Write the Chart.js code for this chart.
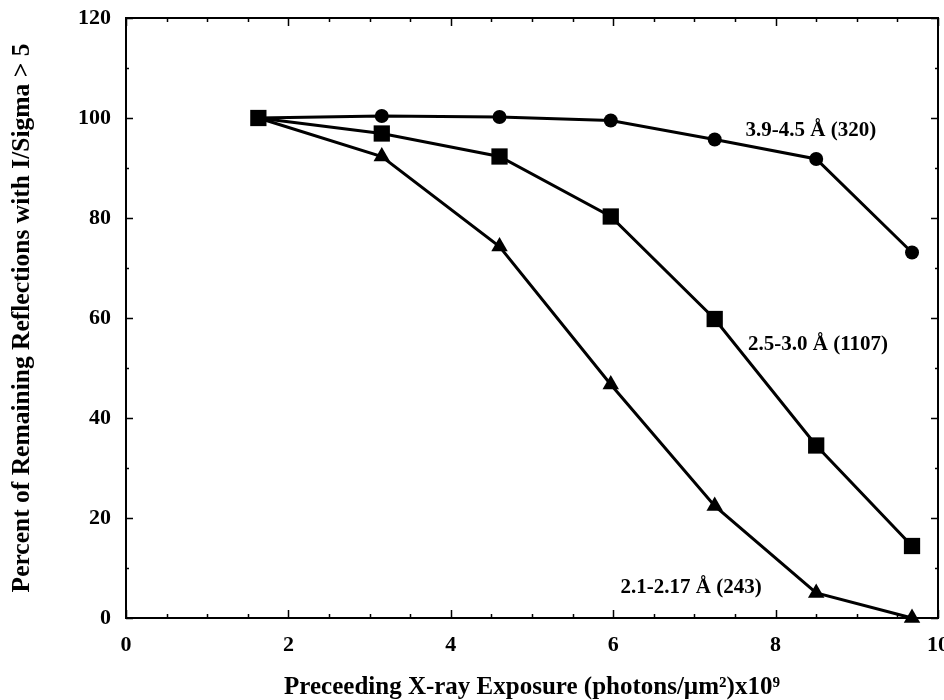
<!DOCTYPE html>
<html><head><meta charset="utf-8">
<script src="https://cdn.jsdelivr.net/npm/chart.js@4/dist/chart.umd.min.js"></script>
<style>html,body{margin:0;padding:0;background:#fff}#wrap{width:944px;height:700px;position:relative}</style>
</head><body><div id="wrap"><canvas id="c"></canvas></div>
<script>
// ---- data ----
const exposure = [1.63, 3.15, 4.6, 5.97, 7.25, 8.5, 9.68];
const lowRes  = [100, 100.4, 100.2, 99.5, 95.7, 91.8, 73.1];   // circles
const midRes  = [100, 96.9, 92.3, 80.3, 59.8, 34.5, 14.4];     // squares
const highRes = [100, 92.3, 74.3, 46.7, 22.4, 5.0, 0.0];       // triangles
const seriesLabels = ['3.9-4.5 Å (320)', '2.5-3.0 Å (1107)', '2.1-2.17 Å (243)'];
const xTicks = [0, 2, 4, 6, 8, 10];
const yTicks = [0, 20, 40, 60, 80, 100, 120];
const xTitle = 'Preceeding X-ray Exposure (photons/µm²)x10⁹';
const yTitle = 'Percent of Remaining Reflections with I/Sigma > 5';

const FONT = '"Liberation Serif", "Times New Roman", serif';
const toPts = (ys) => exposure.map((x, i) => ({x, y: ys[i]}));
const firstHidden = (r) => exposure.map((_, i) => i === 0 ? 0 : r);

const labelAnchors = [
  {x: 7.63, y: 97.4},
  {x: 7.66, y: 54.7},
  {x: 6.09, y: 6.0}
];

const noPad = (s) => {
  s.paddingLeft = 0; s.paddingRight = 0; s.paddingTop = 0; s.paddingBottom = 0;
};

const framePlugin = {
  id: 'frame',
  beforeDatasetsDraw(chart) {
    const {ctx, chartArea: a, scales: {x, y}} = chart;
    ctx.save();
    ctx.strokeStyle = '#000';
    ctx.lineWidth = 2;
    ctx.strokeRect(a.left, a.top, a.right - a.left, a.bottom - a.top);
    ctx.lineWidth = 1.5;
    ctx.beginPath();
    for (let v = 0; v <= 10.001; v += 0.5) {
      const px = Math.round(x.getPixelForValue(v)) + 0.5;
      const major = Math.abs(v / 2 - Math.round(v / 2)) < 1e-6;
      const len = major ? 8 : 4;
      ctx.moveTo(px, a.bottom); ctx.lineTo(px, a.bottom - len);
      ctx.moveTo(px, a.top); ctx.lineTo(px, a.top + len);
    }
    for (let v = 0; v <= 120.001; v += 10) {
      const py = Math.round(y.getPixelForValue(v)) + 0.5;
      const major = v % 20 === 0;
      const len = major ? 7 : 3;
      ctx.moveTo(a.left, py); ctx.lineTo(a.left + len, py);
      ctx.moveTo(a.right, py); ctx.lineTo(a.right - len, py);
    }
    ctx.stroke();
    ctx.restore();
  },
  afterDraw(chart) {
    const {ctx, scales: {x, y}} = chart;
    ctx.save();
    ctx.fillStyle = '#000';
    ctx.font = 'bold 21px ' + FONT;
    ctx.textBaseline = 'middle';
    ctx.textAlign = 'left';
    seriesLabels.forEach((t, i) => {
      ctx.fillText(t, x.getPixelForValue(labelAnchors[i].x), y.getPixelForValue(labelAnchors[i].y));
    });
    ctx.restore();
  }
};

const common = {
  showLine: true, borderColor: '#000', backgroundColor: '#000',
  borderWidth: 3, clip: false, pointBorderWidth: 0, pointHoverBorderWidth: 0
};

new Chart(document.getElementById('c'), {
  type: 'scatter',
  data: {
    datasets: [
      Object.assign({label: seriesLabels[2], data: toPts(highRes), pointStyle: 'triangle', pointRadius: firstHidden(9.5), pointHoverRadius: firstHidden(9.5)}, common),
      Object.assign({label: seriesLabels[0], data: toPts(lowRes), pointStyle: 'circle', pointRadius: firstHidden(7), pointHoverRadius: firstHidden(7)}, common),
      Object.assign({label: seriesLabels[1], data: toPts(midRes), pointStyle: 'rect', pointRadius: 11.5, pointHoverRadius: 11.5}, common)
    ]
  },
  options: {
    responsive: true, maintainAspectRatio: false, animation: false,
    devicePixelRatio: 1,
    layout: {autoPadding: false, padding: {left: 0, right: 6, top: 18, bottom: 0}},
    plugins: {legend: {display: false}, tooltip: {enabled: false}},
    scales: {
      x: {
        type: 'linear', min: 0, max: 10,
        afterBuildTicks: (s) => { s.ticks = xTicks.map(v => ({value: v})); },
        afterFit: (s) => { s.height = 82; noPad(s); },
        ticks: {color: '#000', font: {family: FONT, size: 22, weight: 'bold'}, padding: 14, maxRotation: 0, autoSkip: false},
        grid: {display: false, drawTicks: false},
        border: {display: false},
        title: {display: true, text: xTitle, color: '#000', font: {family: FONT, size: 25, weight: 'bold', lineHeight: 1}, padding: {top: 0, bottom: 0}}
      },
      y: {
        type: 'linear', min: 0, max: 120,
        afterBuildTicks: (s) => { s.ticks = yTicks.map(v => ({value: v})); },
        afterFit: (s) => { s.width = 126; noPad(s); },
        ticks: {color: '#000', font: {family: FONT, size: 22, weight: 'bold'}, padding: 15, autoSkip: false},
        grid: {display: false, drawTicks: false},
        border: {display: false},
        title: {display: true, text: yTitle, color: '#000', font: {family: FONT, size: 25.5, weight: 'bold', lineHeight: 1}, padding: {top: 10, bottom: 0}}
      }
    }
  },
  plugins: [framePlugin]
});
</script></body></html>
